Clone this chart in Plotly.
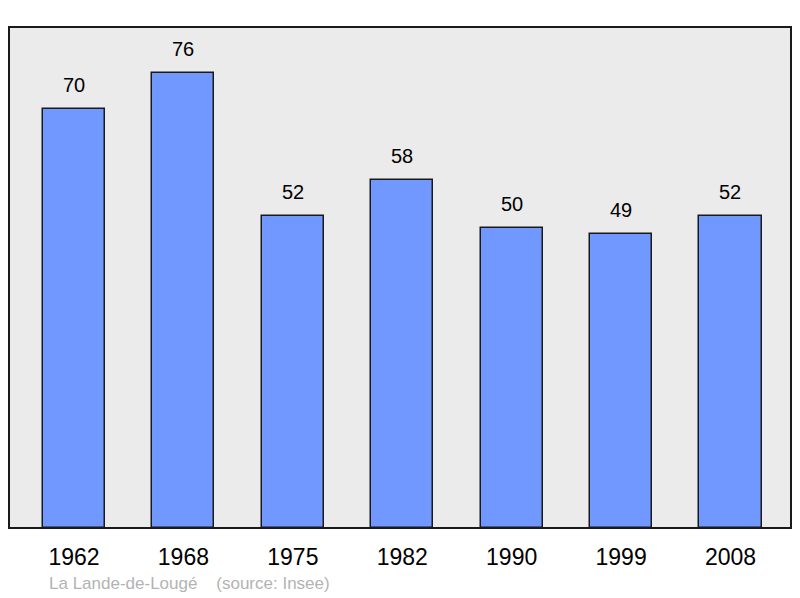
import plotly.graph_objects as go

years = ["1962", "1968", "1975", "1982", "1990", "1999", "2008"]
population = [70, 76, 52, 58, 50, 49, 52]
positions = list(range(len(years)))

FONT = "Liberation Sans, Arial"

fig = go.Figure()
fig.add_trace(go.Bar(
    x=positions, y=population,
    width=0.567,
    marker=dict(color="#7098ff", line=dict(color="#1a1a1a", width=1.5)),
    hoverinfo="skip",
))

for x, v in zip(positions, population):
    fig.add_annotation(x=x, y=v, text=str(v), showarrow=False,
                       yanchor="bottom", yshift=11,
                       font=dict(family=FONT, size=20, color="#000000"))

fig.add_annotation(xref="paper", yref="paper", x=(47 - 9) / 782, y=-(583 - 528) / 501,
                   xanchor="left", yanchor="middle", showarrow=False,
                   text="La Lande-de-Lougé&nbsp;&nbsp;&nbsp;&nbsp;(source: Insee)",
                   font=dict(family=FONT, size=17, color="#b3b3b3"))

fig.add_shape(type="rect", xref="paper", yref="paper", x0=0, y0=0, x1=1, y1=1,
              line=dict(color="#1a1a1a", width=2), layer="above")

fig.update_layout(
    width=800, height=598,
    margin=dict(l=9, r=9, t=27, b=70),
    paper_bgcolor="#ffffff", plot_bgcolor="#ebebeb",
    showlegend=False,
    bargap=0,
    xaxis=dict(range=[-0.594, 6.553], tickmode="array", tickvals=positions, ticktext=years,
               ticks="outside", ticklen=8, tickcolor="rgba(0,0,0,0)",
               showgrid=False, zeroline=False, fixedrange=True,
               tickfont=dict(family=FONT, size=23, color="#000000")),
    yaxis=dict(range=[0, 83.6], showticklabels=False, showgrid=False, zeroline=False,
               fixedrange=True),
)

fig.write_html("out.html", config={"displayModeBar": False},
               post_script="document.body.style.margin='0';")
